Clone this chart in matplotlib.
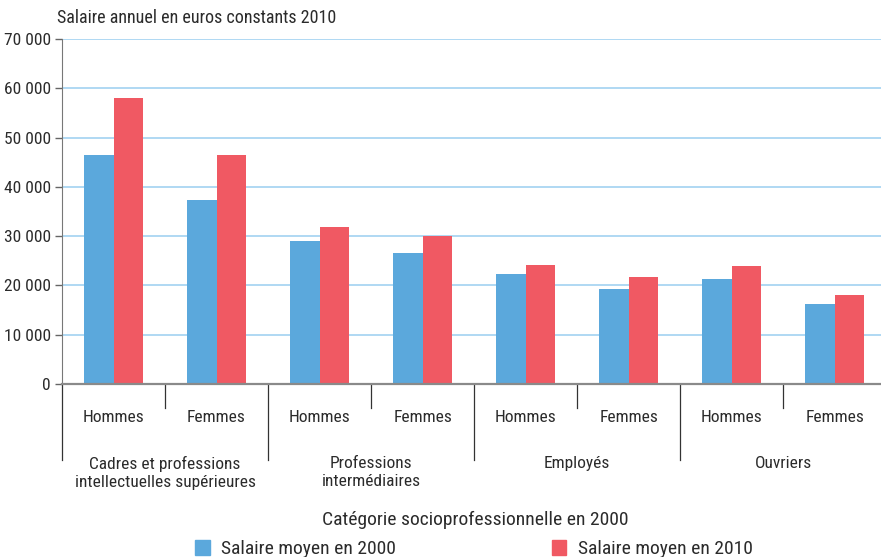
import matplotlib
matplotlib.use("Agg")
import matplotlib.pyplot as plt
from matplotlib.patches import Patch
import numpy as np

plt.rcParams['font.family'] = ['Liberation Sans Narrow', 'Roboto Condensed', 'Archivo Narrow',
                               'Liberation Sans', 'DejaVu Sans']

groups = ["Cadres et professions\nintellectuelles supérieures", "Professions\nintermédiaires",
          "Employés", "Ouvriers"]
sexes = ["Hommes", "Femmes"]
salaire_2000 = [46500, 37300, 29000, 26600, 22300, 19300, 21300, 16200]
salaire_2010 = [58000, 46500, 31800, 30000, 24100, 21700, 23900, 18100]
yticks = [0, 10000, 20000, 30000, 40000, 50000, 60000, 70000]

blue = "#5ba8dc"
red = "#f05963"
txt = "#2b2b2b"

fig = plt.figure(figsize=(8.81, 5.57), dpi=100)
ax = fig.add_axes([62 / 881, 173 / 557, 819 / 881, 345 / 557])

x = np.arange(len(salaire_2000))
w = 0.285
ax.bar(x - w / 2, salaire_2000, w, color=blue, zorder=3)
ax.bar(x + w / 2, salaire_2010, w, color=red, zorder=3)

ax.set_xlim(-0.5, 7.45)
ax.set_ylim(0, 70000)
ax.set_yticks(yticks)
ax.set_yticklabels([f"{v:,}".replace(",", " ") for v in yticks], fontsize=12.5, color=txt)
ax.tick_params(axis="y", length=5, width=1, color="#666666", pad=3)
ax.set_xticks([])
ax.grid(axis="y", color="#a9d5f2", linewidth=1.3, zorder=0)
for s in ["top", "right"]:
    ax.spines[s].set_visible(False)
ax.spines["left"].set_color("#777777")
ax.spines["bottom"].set_color("#8a8a8a")
ax.spines["bottom"].set_linewidth(1.6)
ax.spines["bottom"].set_zorder(4)

# separators and labels below the axis
tr = ax.get_xaxis_transform()
px = 1 / 345
for i in range(len(x) + 1):
    edge = i - 0.5
    depth = 76 if i % 2 == 0 else 24
    ax.plot([edge, edge], [0, -depth * px], transform=tr, color="#333333", lw=0.9, clip_on=False)
for i in range(len(x)):
    ax.text(i, -34 * px, sexes[i % 2], transform=tr, ha="center", va="center",
            fontsize=12.5, color=txt)
for g, name in enumerate(groups):
    ax.text(2 * g + 0.5, -72 * px, name, transform=tr, ha="center", va="top",
            fontsize=12.5, color=txt, linespacing=1.25)

fig.text(57 / 881, 1 - 18 / 557, "Salaire annuel en euros constants 2010",
         ha="left", va="center", fontsize=13, color=txt)
fig.text(475 / 881, 1 - 520 / 557, "Catégorie socioprofessionnelle en 2000",
         ha="center", va="center", fontsize=14, color=txt)

handles = [Patch(color=blue, label="Salaire moyen en 2000"),
           Patch(color=red, label="Salaire moyen en 2010")]
fig.legend(handles=handles, loc="center", bbox_to_anchor=(474 / 881, 1 - 549 / 557),
           ncol=2, frameon=False, fontsize=14, handlelength=0.75, handleheight=0.8,
           handletextpad=0.6, columnspacing=8.0, labelcolor=txt)

fig.savefig("out.png", dpi=100)
